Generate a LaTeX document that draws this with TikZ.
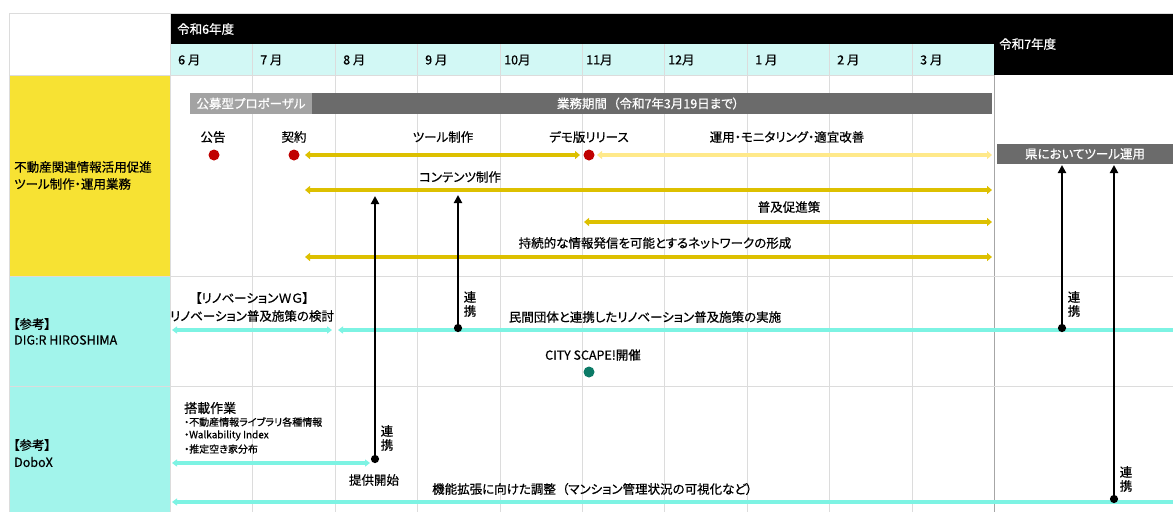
\documentclass[tikz,border=0pt]{standalone}
\usepackage{fontspec}
\setmainfont{Noto Sans CJK JP}[UprightFeatures={FakeBold=0.6}, RawFeature={+palt}]
\usetikzlibrary{arrows.meta}
\definecolor{ydark}{HTML}{DDC000}
\definecolor{ylight}{HTML}{FFE98A}
\definecolor{cyline}{HTML}{7DF3E3}
\definecolor{yelbg}{HTML}{F7E233}
\definecolor{cybg}{HTML}{A2F4EB}
\definecolor{monthbg}{HTML}{D2F8F5}
\definecolor{bardark}{HTML}{6B6B6B}
\definecolor{barlight}{HTML}{A3A3A3}
\definecolor{reddot}{HTML}{C00000}
\definecolor{tealdot}{HTML}{0B7A66}
\definecolor{gridc}{HTML}{DCDCDC}
\tikzset{
  lbl/.style={inner sep=0pt, font=\fontsize{12.5}{14}\selectfont},
  small/.style={inner sep=0pt, anchor=west, font=\fontsize{10}{11}\selectfont},
  vlbl/.style={inner sep=0pt, align=center, font=\fontsize{12.5}{14}\selectfont},
  bar/.style={inner sep=0pt, minimum height=21pt, text=white, font=\fontsize{12.5}{14}\selectfont},
  rdot/.style={circle, fill=reddot, inner sep=0pt, minimum size=11pt},
  tdot/.style={circle, fill=tealdot, inner sep=0pt, minimum size=11pt},
  yarr/.style={draw=ydark, line width=4pt, {Triangle[length=5pt,width=8pt]}-{Triangle[length=5pt,width=8pt]}},
  ylarr/.style={draw=ylight, line width=4pt, {Triangle[length=5pt,width=8pt]}-{Triangle[length=5pt,width=8pt]}},
  carr/.style={draw=cyline, line width=3.5pt, {Triangle[length=5pt,width=7pt]}-{Triangle[length=5pt,width=7pt]}},
  carrl/.style={draw=cyline, line width=3.5pt, {Triangle[length=5pt,width=7pt]}-},
  barr/.style={draw=black, line width=2.5pt, {Circle[length=8pt]}-{Triangle[length=8pt,width=8pt]}},
  grid line/.style={draw=gridc, line width=1pt}
}
\begin{document}
\begin{tikzpicture}[x=1pt,y=-1pt]
\useasboundingbox (0,0) rectangle (1173,512);
\fill[white] (0,0) rectangle (1173,512);
% backgrounds
\fill[black] (170,13) rectangle (994,44);
\fill[black] (994,13) rectangle (1173,75);
\fill[monthbg] (170,44) rectangle (994,75);
\fill[yelbg] (9,75) rectangle (170,276);
\fill[cybg] (9,276) rectangle (170,512);
% grid
\foreach \xx in {252,335,417,500,582,664,747,829,912}{
  \draw[grid line] (\xx,44) -- (\xx,512);
}
\draw[draw=gray!70, line width=1pt] (994,75) -- (994,512);
\draw[grid line] (9,13) -- (1173,13);
\draw[grid line] (9,13) -- (9,512);
\draw[grid line] (170,13) -- (170,512);
\draw[grid line] (9,75) -- (994,75);
\draw[grid line] (9,276) -- (1173,276);
\draw[grid line] (9,386) -- (1173,386);
% header text
\node[lbl, anchor=west, text=white] (y6) at (177,29) {令和6年度};
\node[lbl, anchor=west, text=white] (y7) at (999,44) {令和7年度};
\node[lbl, anchor=west] (m6) at (178,60) {6 月};
\node[lbl, anchor=west] (m7) at (260,60) {7 月};
\node[lbl, anchor=west] (m8) at (343,60) {8 月};
\node[lbl, anchor=west] (m9) at (425,60) {9 月};
\node[lbl, anchor=west] (m10) at (504,60) {10月};
\node[lbl, anchor=west] (m11) at (586,60) {11月};
\node[lbl, anchor=west] (m12) at (668,60) {12月};
\node[lbl, anchor=west] (m1) at (755,60) {1 月};
\node[lbl, anchor=west] (m2) at (837,60) {2 月};
\node[lbl, anchor=west] (m3) at (920,60) {3 月};
% left column
\node[lbl, anchor=west] (l1a) at (14,167) {不動産関連情報活用促進};
\node[lbl, anchor=west] (l1b) at (14,184) {ツール制作・運用業務};
\node[lbl, anchor=west] (l2a) at (13,324) {【参考】};
\node[lbl, anchor=west] (l2b) at (14,340) {DIG:R HIROSHIMA};
\node[lbl, anchor=west] (l3a) at (13,445) {【参考】};
\node[lbl, anchor=west] (l3b) at (14,462) {DoboX};
% bars
\node[bar, fill=barlight, minimum width=122pt] (prop) at (251,103.5) {公募型プロポーザル};
\node[bar, fill=bardark, minimum width=680pt] (period) at (652,103.5) {};
\node[bar] (periodtxt) at (648,103.5) {業務期間\hspace{0.5em}（令和7年3月19日まで）\hspace{0.5em}};
\node[bar, fill=bardark, minimum width=176pt, minimum height=20pt] (ken) at (1085,154) {県においてツール運用};
% milestone labels
\node[lbl] (koukoku) at (213,137) {公告};
\node[lbl] (keiyaku) at (294,137) {契約};
\node[lbl] (tool) at (443,137) {ツール制作};
\node[lbl] (demo) at (589,137) {デモ版リリース};
\node[lbl] (unyou) at (787,137) {運用・モニタリング・適宜改善};
\node[rdot] (d1) at (214,155) {};
\node[rdot] (d2) at (294,155) {};
\node[rdot] (d3) at (589,155) {};
% yellow arrows
\coordinate (a1s) at (305,155); \coordinate (a1e) at (580,155);
\coordinate (a2s) at (597,155); \coordinate (a2e) at (992,155);
\draw[yarr] (a1s) -- (a1e);
\draw[ylarr] (a2s) -- (a2e);
\node[lbl] (content) at (460,177) {コンテンツ制作};
\coordinate (a3s) at (305,190); \coordinate (a3e) at (992,190);
\draw[yarr] (a3s) -- (a3e);
\node[lbl] (fukyu) at (789,207) {普及促進策};
\coordinate (a4s) at (584,222); \coordinate (a4e) at (992,222);
\draw[yarr] (a4s) -- (a4e);
\node[lbl] (net) at (655,243) {持続的な情報発信を可能とするネットワークの形成};
\coordinate (a5s) at (305,257); \coordinate (a5e) at (992,257);
\draw[yarr] (a5s) -- (a5e);
% DIG row
\node[lbl] (wg1) at (252,298) {【リノベーションＷＧ】};
\node[lbl] (wg2) at (252,316) {リノベーション普及施策の検討};
\coordinate (c1s) at (172,330); \coordinate (c1e) at (332,330);
\draw[carr] (c1s) -- (c1e);
\node[lbl] (minkan) at (645,317) {民間団体と連携したリノベーション普及施策の実施};
\coordinate (c2s) at (338,330); \coordinate (c2e) at (1173,330);
\draw[carrl] (c2s) -- (c2e);
\node[lbl] (city) at (593,355) {CITY SCAPE!開催};
\node[tdot] (d4) at (589,372) {};
% DoboX row
\node[lbl, anchor=west, font=\fontsize{13}{14}\selectfont] (tousai) at (184,408) {搭載作業};
\node[small] (i1) at (184,422) {・不動産情報ライブラリ各種情報};
\node[small] (i2) at (184,435.5) {・Walkability Index};
\node[small] (i3) at (184,449) {・推定空き家分布};
\coordinate (c3s) at (172,463); \coordinate (c3e) at (370,463);
\draw[carr] (c3s) -- (c3e);
\node[lbl] (teikyo) at (374,480) {提供開始};
\node[lbl, anchor=west] (kinou) at (432,489) {機能拡張に向けた調整\hspace{0.5em}（マンション管理状況の可視化など）};
\coordinate (c4s) at (172,502); \coordinate (c4e) at (1173,502);
\draw[carrl] (c4s) -- (c4e);
% black link arrows
\coordinate (b1s) at (375,463); \coordinate (b1e) at (375,196);
\coordinate (b2s) at (458,332); \coordinate (b2e) at (458,195);
\coordinate (b3s) at (1062,332); \coordinate (b3e) at (1062,165);
\coordinate (b4s) at (1114,503); \coordinate (b4e) at (1114,165);
\draw[barr] (b1s) -- (b1e);
\draw[barr] (b2s) -- (b2e);
\draw[barr] (b3s) -- (b3e);
\draw[barr] (b4s) -- (b4e);
\node[vlbl] (r1) at (387,438) {連\\携};
\node[vlbl] (r2) at (470,304) {連\\携};
\node[vlbl] (r3) at (1074,304) {連\\携};
\node[vlbl] (r4) at (1126,479) {連\\携};
\end{tikzpicture}
\end{document}
